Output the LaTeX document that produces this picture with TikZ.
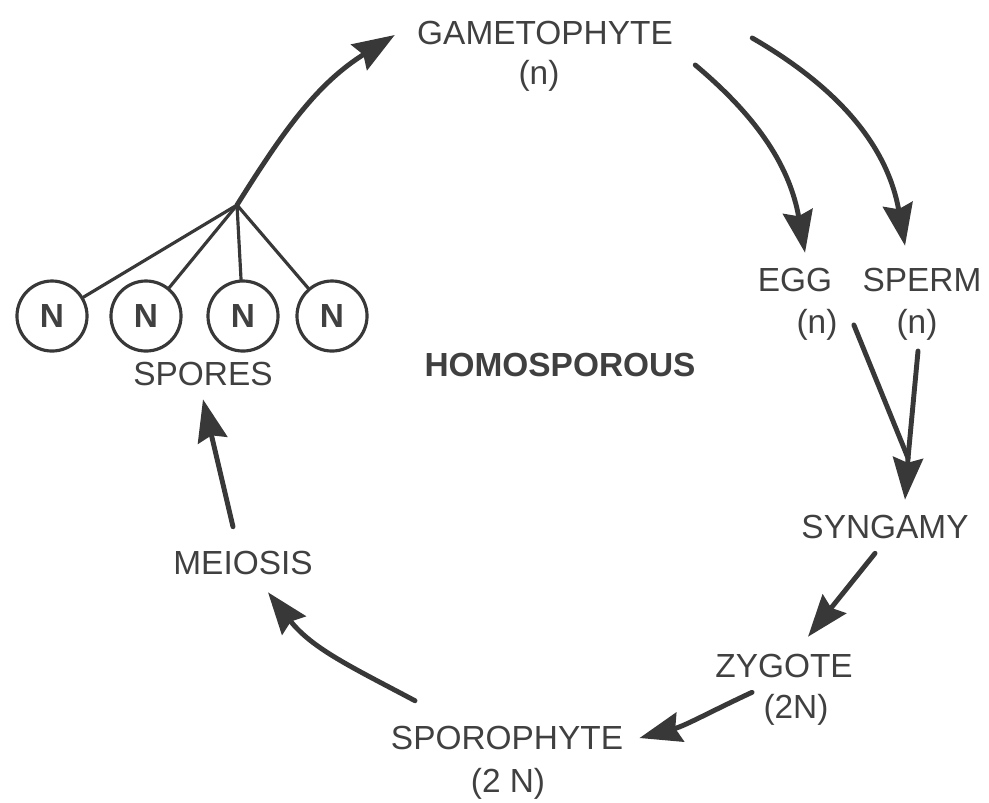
\documentclass[tikz,border=0pt]{standalone}
\usepackage{fontspec}
\setmainfont{Liberation Sans}
\usetikzlibrary{arrows.meta,calc}
\definecolor{ink}{HTML}{383838}
\definecolor{txt}{HTML}{404040}
\begin{document}
\begin{tikzpicture}[x=0.01cm,y=-0.01cm,font=\fontsize{9.5}{11}\selectfont,line join=round,line cap=round,
  >={Stealth[length=0.42cm,width=0.3cm,inset=0.05cm]},
  lbl/.style={inner sep=0.5pt,text=txt},
  spore/.style={circle,draw=ink,line width=0.9pt,minimum size=0.7cm,inner sep=0pt,text=txt,font=\fontsize{9.5}{11}\selectfont\bfseries},
  flow/.style={->,draw=ink,line width=1.4pt}]
 \useasboundingbox (0,0) rectangle (989,802);
 % labels round the cycle
 \node[lbl] (gam) at (545,33) {GAMETOPHYTE};
 \node[lbl] (gamn) at (539,76) {(n)};
 \node[lbl] (egg) at (795,280) {EGG};
 \node[lbl] (eggn) at (817,325) {(n)};
 \node[lbl] (sperm) at (922,280) {SPERM};
 \node[lbl] (spermn) at (917,325) {(n)};
 \node[lbl] (syn) at (885,527) {SYNGAMY};
 \node[lbl] (zyg) at (784,666) {ZYGOTE};
 \node[lbl] (zygn) at (796,710) {(2N)};
 \node[lbl] (spor) at (507,738) {SPOROPHYTE};
 \node[lbl] (sporn) at (508,784) {(2 N)};
 \node[lbl] (mei) at (243,563) {MEIOSIS};
 \node[lbl] (spores) at (203,374) {SPORES};
 \node[lbl,font=\fontsize{9.5}{11}\selectfont\bfseries] (homo) at (560,365) {HOMOSPOROUS};
 % spores
 \node[spore] (s1) at (52,316) {N};
 \node[spore] (s2) at (146,316) {N};
 \node[spore] (s3) at (243,316) {N};
 \node[spore] (s4) at (332,316) {N};
 \coordinate (br) at (237,205);
 \coordinate (mrg) at (908,458);
 \foreach \s in {s1,s2,s3,s4} \draw[ink,line width=0.9pt] (br)--(\s);
 % arrows
 \draw[flow] (br) to[out=58,in=212] ($(gam.west)+(-20,2)$);
 \draw[flow] ($(gam.east)+(20,32)$) to[out=-40,in=100] ($(egg.north)+(10,-13)$);
 \draw[flow] ($(gam.east)+(77,5)$) to[out=-30,in=100] ($(sperm.north)+(-17,-20)$);
 \draw[ink,line width=1.4pt] ($(eggn.east)+(14,0)$) -- (mrg);
 \draw[ink,line width=1.4pt] ($(spermn.south)+(1,8)$) -- (mrg);
 \draw[flow] (mrg) -- ($(syn.north)+(20,-13)$);
 \draw[flow] ($(syn.south)+(-10,12)$) -- ($(zyg.north)+(24,-15)$);
 \draw[flow] ($(zyg.south)+(-32,12)$) to[out=205,in=15] ($(spor.east)+(14,0)$);
 \draw[flow] ($(spor.north)+(-92,-23)$) to[out=152,in=-52] ($(mei.south)+(25,15)$);
 \draw[flow] ($(mei.north)+(-10,-22)$) -- ($(spores.south)+(0,11)$);
\end{tikzpicture}
\end{document}
